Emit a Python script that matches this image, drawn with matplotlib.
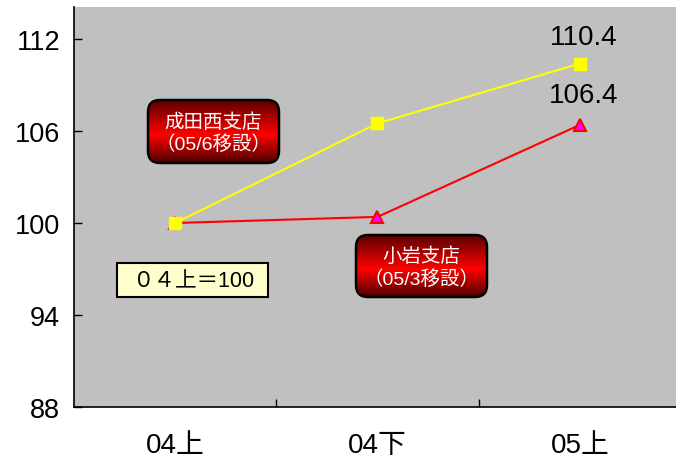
import numpy as np
import matplotlib
matplotlib.use("Agg")
import matplotlib.pyplot as plt
from matplotlib.patches import FancyBboxPatch
from matplotlib.colors import LinearSegmentedColormap

plt.rcParams['font.family'] = ['Liberation Sans', 'Noto Sans CJK JP', 'DejaVu Sans']

categories = ["04上", "04下", "05上"]
narita = [100.0, 106.5, 110.4]
koiwa = [100.0, 100.4, 106.4]
yticks = [88, 94, 100, 106, 112]

W, H = 676, 460
fig = plt.figure(figsize=(W / 100, H / 100), dpi=100)
fig.patch.set_facecolor('white')

def px(x0, y0, x1, y1):
    return [x0 / W, 1 - y1 / H, (x1 - x0) / W, (y1 - y0) / H]

ax = fig.add_axes(px(74, 8, 681, 408))
ax.set_facecolor('#C0C0C0')
x = np.arange(len(categories))
ax.plot(x, koiwa, color='#FF0000', lw=1.5, marker='^', markersize=8,
        markerfacecolor='#FF00FF', markeredgecolor='#FF0000', markeredgewidth=1.5, zorder=3)
ax.plot(x, narita, color='#FFFF00', lw=1.5, marker='s', markersize=9,
        markerfacecolor='#FFFF00', markeredgecolor='#FFFF00', zorder=4)
ax.set_xlim(-0.5, 2.5)
ax.set_ylim(88, 114.09)
ax.set_yticks(yticks)
ax.set_yticklabels([str(v) for v in yticks], fontsize=19.5)
ax.set_xticks([0.5, 1.5])
ax.set_xticklabels([])
ax.set_xticks(x, minor=True)
ax.set_xticklabels(categories, minor=True, fontsize=20,
                   family=['Liberation Sans', 'Noto Sans CJK JP'])
ax.tick_params(axis='x', which='minor', length=0, pad=18)
ax.tick_params(axis='x', which='major', direction='in', length=6, width=1)
ax.tick_params(axis='y', direction='in', length=6, width=1, pad=10)
for s in ['top', 'right']:
    ax.spines[s].set_visible(False)
for s in ['left', 'bottom']:
    ax.spines[s].set_linewidth(1.2)

ax.annotate(f"{narita[2]:.1f}", (x[2], narita[2]), xytext=(3, 19), textcoords='offset points',
            ha='center', va='center', fontsize=20)
ax.annotate(f"{koiwa[2]:.1f}", (x[2], koiwa[2]), xytext=(3, 21.5), textcoords='offset points',
            ha='center', va='center', fontsize=20)

# overlay for boxes (pixel coordinates)
ov = fig.add_axes([0, 0, 1, 1], zorder=5)
ov.set_xlim(0, W)
ov.set_ylim(H, 0)
ov.axis('off')
ov.patch.set_alpha(0)

cmap = LinearSegmentedColormap.from_list('rg', [(0, '#5a0000'), (0.55, '#ff0000'), (1, '#4a0000')])
grad = np.linspace(0, 1, 256).reshape(-1, 1)

def red_box(x0, y0, x1, y1, text):
    p = FancyBboxPatch((x0, y0), x1 - x0, y1 - y0,
                       boxstyle="round,pad=0,rounding_size=12",
                       facecolor='none', edgecolor='black', lw=1.8, zorder=6)
    ov.add_patch(p)
    im = ov.imshow(grad, cmap=cmap, extent=(x0, x1, y1, y0), aspect='auto', zorder=5,
                   interpolation='bilinear')
    im.set_clip_path(p)
    ov.text((x0 + x1) / 2, (y0 + y1) / 2 + 1, text, ha='center', va='center', color='white',
            fontsize=14, linespacing=1.25, family=['Liberation Sans', 'Noto Sans CJK JP'],
            zorder=7)

red_box(148, 101, 279, 164, "成田西支店\n（05/6移設）")
red_box(356, 236, 487, 298, "小岩支店\n（05/3移設）")

ov.add_patch(FancyBboxPatch((117, 264), 151, 34, boxstyle="square,pad=0",
                            facecolor='#FFFFCC', edgecolor='black', lw=1.5, zorder=6))
ov.text(193, 281.5, "０４上＝100", ha='center', va='center', fontsize=15.5,
        family=['Liberation Sans', 'Noto Sans CJK JP'], zorder=7)

fig.savefig("out.png", dpi=100)
